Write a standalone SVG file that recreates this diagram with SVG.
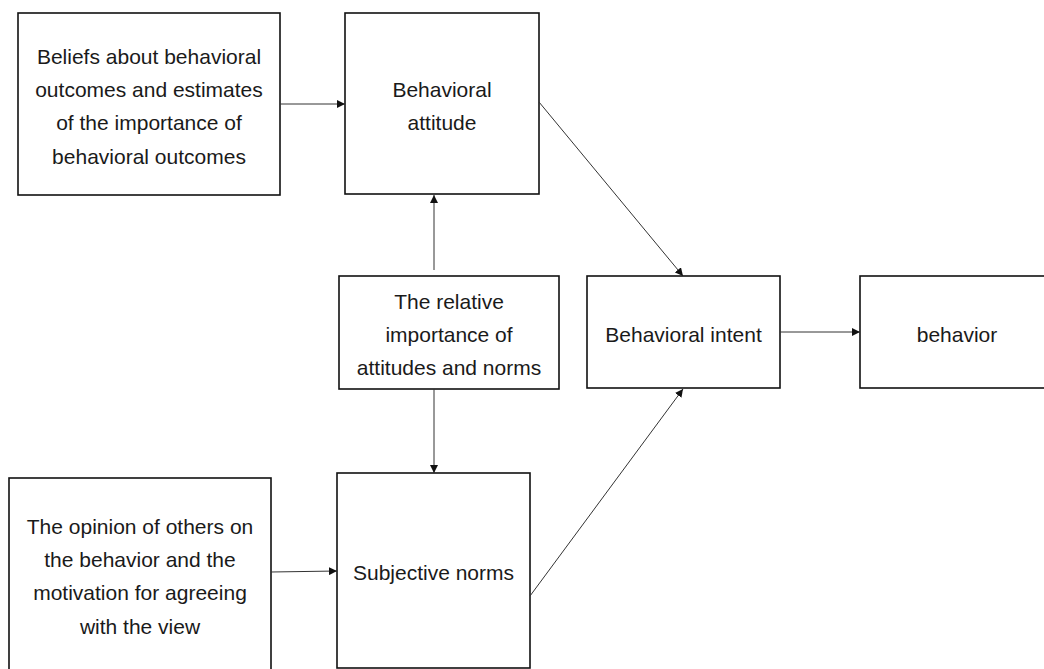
<svg xmlns="http://www.w3.org/2000/svg" width="1044" height="669" viewBox="0 0 1044 669">
  <style>
    .box { fill: #ffffff; stroke: #111111; stroke-width: 1.6; }
    .label { font-family: "Liberation Sans", Arial, sans-serif; font-size: 21px; fill: #1a1a1a; text-anchor: middle; }
    .edge { fill: none; stroke: #333333; stroke-width: 1; marker-end: url(#arrow); }
  </style>
  <defs>
    <marker id="arrow" viewBox="0 0 10 10" refX="10" refY="5" markerWidth="8" markerHeight="8" markerUnits="userSpaceOnUse" orient="auto">
      <path d="M0,0 L10,5 L0,10 Z" fill="#111111"/>
    </marker>
  </defs>
  <rect width="1044" height="669" fill="#ffffff"/>

  <!-- nodes -->
  <g id="beliefs">
    <rect class="box" x="18" y="13" width="262" height="182"/>
    <text class="label" x="149" y="64">Beliefs about behavioral</text>
    <text class="label" x="149" y="97">outcomes and estimates</text>
    <text class="label" x="149" y="130">of the importance of</text>
    <text class="label" x="149" y="164">behavioral outcomes</text>
  </g>
  <g id="attitude">
    <rect class="box" x="345" y="13" width="194" height="181"/>
    <text class="label" x="442" y="97">Behavioral</text>
    <text class="label" x="442" y="130">attitude</text>
  </g>
  <g id="relative-importance">
    <rect class="box" x="339" y="276" width="220" height="113"/>
    <text class="label" x="449" y="309">The relative</text>
    <text class="label" x="449" y="342">importance of</text>
    <text class="label" x="449" y="375">attitudes and norms</text>
  </g>
  <g id="intent">
    <rect class="box" x="587" y="276" width="193" height="112"/>
    <text class="label" x="683.5" y="342">Behavioral intent</text>
  </g>
  <g id="behavior">
    <rect class="box" x="860" y="276" width="194" height="112"/>
    <text class="label" x="957" y="342">behavior</text>
  </g>
  <g id="opinion">
    <rect class="box" x="9" y="478" width="262" height="200"/>
    <text class="label" x="140" y="534">The opinion of others on</text>
    <text class="label" x="140" y="567">the behavior and the</text>
    <text class="label" x="140" y="600">motivation for agreeing</text>
    <text class="label" x="140" y="634">with the view</text>
  </g>
  <g id="subjective-norms">
    <rect class="box" x="337" y="473" width="193" height="195"/>
    <text class="label" x="433.5" y="580">Subjective norms</text>
  </g>

  <!-- connectors -->
  <g id="connectors">
    <line class="edge" x1="280" y1="104" x2="345" y2="104"/>
    <line class="edge" x1="434" y1="270" x2="434" y2="195"/>
    <line class="edge" x1="434" y1="389" x2="434" y2="473"/>
    <line class="edge" x1="539" y1="102" x2="683" y2="276"/>
    <line class="edge" x1="780" y1="332" x2="860" y2="332"/>
    <line class="edge" x1="271" y1="572" x2="337" y2="571"/>
    <line class="edge" x1="530" y1="596" x2="683" y2="389"/>
  </g>
</svg>
